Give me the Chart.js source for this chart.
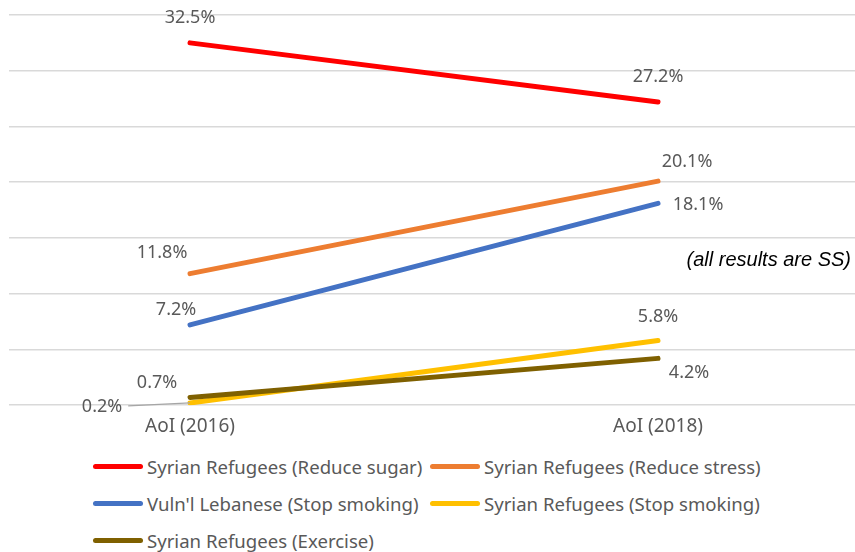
<!DOCTYPE html>
<html>
<head>
<meta charset="utf-8">
<script src="https://cdn.jsdelivr.net/npm/chart.js@4/dist/chart.umd.min.js"></script>
<style>
    html, body { margin: 0; padding: 0; background: #fff; }
    #wrap { position: relative; width: 855px; height: 552px; }
    #myChart { position: absolute; left: 0; top: 0; }
    #legend {
        position: absolute; left: 93px; top: 448px;
        display: grid; grid-template-columns: 337px auto;
        font-family: "Noto Sans", sans-serif; font-size: 18.6px; color: #595959;
    }
    .item { display: flex; align-items: center; height: 37px; white-space: nowrap; }
    .swatch { flex: 0 0 50px; height: 5px; border-radius: 3px; margin-right: 4px; }
</style>
</head>
<body>
<div id="wrap">
    <canvas id="myChart" width="855" height="440"></canvas>
    <div id="legend"></div>
</div>
<script>
const categories = ['AoI (2016)', 'AoI (2018)'];
const seriesNames = [
    'Syrian Refugees (Reduce sugar)',
    'Syrian Refugees (Reduce stress)',
    "Vuln'l Lebanese (Stop smoking)",
    'Syrian Refugees (Stop smoking)',
    'Syrian Refugees (Exercise)'
];
const reduceSugar = [32.5, 27.2];
const reduceStress = [11.8, 20.1];
const lebaneseSmoking = [7.2, 18.1];
const syrianSmoking = [0.2, 5.8];
const exercise = [0.7, 4.2];
const yTicks = [0, 5, 10, 15, 20, 25, 30, 35];

const seriesValues = [reduceSugar, reduceStress, lebaneseSmoking, syrianSmoking, exercise];
const colors = ['#ff0000', '#ed7d31', '#4472c4', '#ffc000', '#7f6000'];

// where each value label sits relative to its point [dx, dy]
const labelOffsets = [
    [[0, -25], [0, -25]],
    [[-28, -21], [29, -19]],
    [[-14, -15], [40, 1]],
    [[-88, 4], [0, -24]],
    [[-33, -15], [31, 14]]
];

const valueLabels = {
    id: 'valueLabels',
    afterDatasetsDraw(chart) {
        const ctx = chart.ctx;
        ctx.save();
        ctx.font = '18px "Noto Sans", sans-serif';
        ctx.fillStyle = '#595959';
        ctx.textAlign = 'center';
        ctx.textBaseline = 'middle';
        chart.data.datasets.forEach((ds, i) => {
            const meta = chart.getDatasetMeta(i);
            meta.data.forEach((pt, j) => {
                const [dx, dy] = labelOffsets[i][j];
                const text = seriesValues[i][j].toFixed(1) + '%';
                ctx.fillText(text, pt.x + dx, pt.y + dy);
                if (i === 3 && j === 0) {
                    // leader line from the 0.2% label
                    const w = ctx.measureText(text).width;
                    ctx.strokeStyle = '#a6a6a6';
                    ctx.lineWidth = 1.2;
                    ctx.beginPath();
                    ctx.moveTo(pt.x + dx + w / 2 + 6, pt.y + dy - 1);
                    ctx.lineTo(pt.x, pt.y);
                    ctx.stroke();
                }
            });
        });
        ctx.font = 'italic 20px "Liberation Sans Narrow", "Liberation Sans", sans-serif';
        ctx.fillStyle = '#000';
        ctx.textAlign = 'right';
        ctx.fillText('(all results are SS)', chart.chartArea.right - 4, chart.scales.y.getPixelForValue(13));
        ctx.restore();
    }
};

function buildChart() {
    const datasets = seriesNames.map((name, i) => ({
        label: name,
        data: seriesValues[i].map((v, j) => ({ x: j, y: v })),
        borderColor: colors[i],
        backgroundColor: colors[i],
        borderWidth: 5,
        borderCapStyle: 'round',
        pointRadius: 0,
        order: i === 4 ? -1 : i
    }));

    const config = {
        type: 'line',
        data: { datasets: datasets },
        options: {
            responsive: false,
            animation: false,
            layout: { padding: { left: 9, right: 0, top: 15, bottom: 0 } },
            plugins: {
                legend: { display: false },
                tooltip: { enabled: false }
            },
            scales: {
                x: {
                    type: 'linear',
                    min: -0.3868,
                    max: 1.4209,
                    afterBuildTicks: (axis) => { axis.ticks = categories.map((c, i) => ({ value: i })); },
                    grid: { display: false },
                    border: { display: false },
                    ticks: {
                        callback: (v) => categories[v],
                        color: '#595959',
                        font: { family: 'Noto Sans', size: 19 },
                        padding: 2
                    }
                },
                y: {
                    min: 0,
                    max: 35,
                    afterBuildTicks: (axis) => { axis.ticks = yTicks.map(v => ({ value: v })); },
                    grid: { color: '#d9d9d9', lineWidth: 1.5, drawTicks: false },
                    border: { display: false },
                    ticks: { display: false }
                }
            }
        },
        plugins: [valueLabels]
    };

    new Chart(document.getElementById('myChart').getContext('2d'), config);

    const legend = document.getElementById('legend');
    seriesNames.forEach((name, i) => {
        const item = document.createElement('div');
        item.className = 'item';
        const sw = document.createElement('span');
        sw.className = 'swatch';
        sw.style.background = colors[i];
        item.appendChild(sw);
        item.appendChild(document.createTextNode(name));
        legend.appendChild(item);
    });
}

buildChart();
</script>
</body>
</html>
